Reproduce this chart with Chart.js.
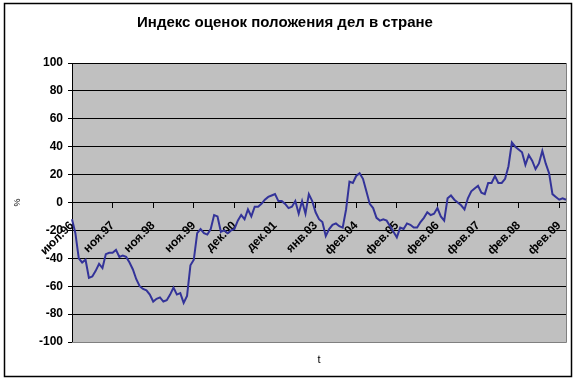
<!DOCTYPE html>
<html><head><meta charset="utf-8">
<script src="https://cdn.jsdelivr.net/npm/chart.js@4"></script>
<style>html,body{margin:0;padding:0;background:#fff}</style>
</head><body>
<canvas id="c" width="577" height="382"></canvas>
<script>
const tickLabels = ['июл.96','ноя.97','ноя.98','ноя.99','дек.00','дек.01','янв.03','фев.04','фев.05','фев.06','фев.07','фев.08','фев.09'];
const indexValues = [
 -12,-22,-40,-43,-41,-54,-53,-49,-44,-47,
 -37,-36,-36,-34,-39,-38,-39,-43,-48,-55,
 -60,-62,-63,-66,-71,-69,-68,-71,-70,-66,
 -61,-66,-65,-72,-67,-45,-41,-22,-19,-22,
 -23,-19,-9,-10,-21,-20,-22,-20,-19,-13,
 -9,-12,-5,-10,-3,-3,-1,2,4,5,
 6,1,1,-1,-4,-3,1,-8,1,-8,
 6,1,-7,-12,-14,-24,-19,-16,-15,-17,
 -18,-5,15,14,19,21,17,8,-1,-4,
 -11,-13,-12,-13,-17,-21,-25,-18,-19,-15,
 -16,-18,-18,-14,-11,-7,-9,-8,-4,-10,
 -13,3,5,2,0,-2,-5,3,8,10,
 12,7,6,14,14,19,14,14,17,26,
 43,40,38,36,27,34,30,24,28,37,
 28,21,6,4,2,3,2
];
const labelEvery = 12;
const categories = indexValues.map((v, i) => (i % labelEvery === 0 ? (tickLabels[i / labelEvery] || '') : ''));

const FONT = "'Liberation Sans', Arial, sans-serif";

const decor = {
  id: 'decor',
  beforeDraw(chart) {
    const ctx = chart.ctx, a = chart.chartArea;
    ctx.save();
    ctx.fillStyle = '#fff';
    ctx.fillRect(0, 0, chart.width, chart.height);
    ctx.strokeStyle = '#000';
    ctx.lineWidth = 1.5;
    ctx.strokeRect(4.5, 3.5, 567, 373);
    ctx.fillStyle = '#c0c0c0';
    ctx.fillRect(a.left, a.top, a.right - a.left, a.bottom - a.top);
    ctx.restore();
  },
  beforeDatasetsDraw(chart) {
    const ctx = chart.ctx, a = chart.chartArea;
    ctx.save();
    ctx.strokeStyle = '#808080';
    ctx.lineWidth = 1;
    ctx.beginPath();
    ctx.moveTo(a.left, a.bottom + 0.5);
    ctx.lineTo(a.right + 0.5, a.bottom + 0.5);
    ctx.lineTo(a.right + 0.5, a.top);
    ctx.stroke();
    ctx.restore();
  },
  afterDraw(chart) {
    const ctx = chart.ctx, a = chart.chartArea;
    ctx.save();
    ctx.fillStyle = '#000';
    ctx.font = '11px ' + FONT;
    ctx.textAlign = 'center';
    ctx.textBaseline = 'middle';
    ctx.fillText('t', (a.left + a.right) / 2, 360);
    ctx.restore();
  }
};

new Chart(document.getElementById('c'), {
  type: 'line',
  data: {
    labels: categories,
    datasets: [{
      data: indexValues,
      borderColor: '#333399',
      borderWidth: 2,
      pointRadius: 0,
      tension: 0,
      fill: false
    }]
  },
  options: {
    responsive: false,
    animation: false,
    devicePixelRatio: 1,
    layout: { padding: { left: 4, right: 11, top: 0, bottom: 40 } },
    plugins: {
      legend: { display: false },
      tooltip: { enabled: false },
      title: {
        display: true,
        text: 'Индекс оценок положения дел в стране',
        color: '#000',
        font: { family: FONT, size: 15, weight: 'bold' },
        padding: { top: 14, bottom: 31 }
      }
    },
    scales: {
      x: {
        type: 'category',
        position: { y: 0 },
        offset: false,
        afterBuildTicks(axis) {
          axis.ticks = axis.ticks.filter(t => t.value % labelEvery === 0);
        },
        afterFit(axis) {
          axis.paddingLeft = 0;
          axis.paddingRight = 0;
        },
        grid: { drawOnChartArea: false, drawTicks: true, tickLength: 5, color: '#000', lineWidth: 1 },
        border: { display: true, color: '#000', width: 1 },
        ticks: {
          autoSkip: false,
          minRotation: 45,
          maxRotation: 45,
          padding: 11,
          color: '#000',
          font: { family: FONT, size: 12, weight: 'bold' }
        }
      },
      y: {
        min: -100,
        max: 100,
        afterFit(scale) { scale.width = 68; },
        grid: { color: '#000', lineWidth: 1, drawTicks: true, tickLength: 4 },
        border: { display: true, color: '#000', width: 1 },
        ticks: {
          stepSize: 20,
          padding: 5,
          color: '#000',
          font: { family: FONT, size: 12, weight: 'bold' }
        },
        title: {
          display: true,
          text: '%',
          color: '#000',
          font: { family: FONT, size: 9 },
          padding: { top: 8, bottom: 0 }
        }
      }
    }
  },
  plugins: [decor]
});
</script>
</body></html>
